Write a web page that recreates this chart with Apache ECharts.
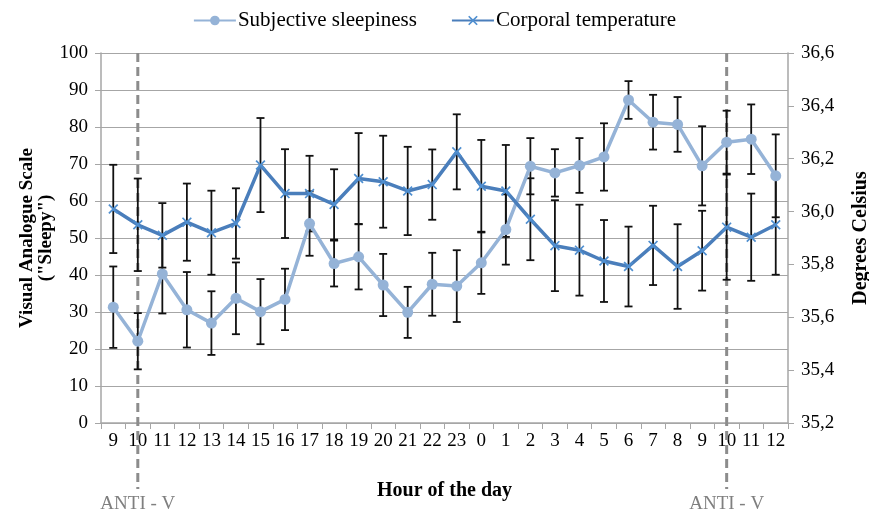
<!DOCTYPE html>
<html>
<head>
<meta charset="utf-8">
<script src="https://cdn.jsdelivr.net/npm/echarts@6/dist/echarts.min.js"></script>
<style>
html,body{margin:0;padding:0;background:#fff;}
#chart{width:869px;height:517px;}
</style>
</head>
<body>
<div id="chart"></div>
<script>
// Hour of the day categories
const hours = ['9','10','11','12','13','14','15','16','17','18','19','20','21','22','23','0','1','2','3','4','5','6','7','8','9','10','11','12'];
// Subjective sleepiness (VAS) and its error (±)
const sleepiness = [31.3,22.1,40.3,30.6,27.0,33.7,30.1,33.4,53.9,43.1,44.9,37.3,29.9,37.5,37.0,43.3,52.3,69.4,67.6,69.6,71.9,87.3,81.3,80.7,69.5,75.9,76.7,66.8];
const sleepinessErr = [11.0,7.6,10.7,10.2,8.6,9.7,8.8,8.3,8.7,6.2,8.8,8.4,6.9,8.5,9.7,8.4,9.5,7.6,6.4,7.4,9.1,5.1,7.4,7.4,10.7,8.5,9.4,11.2];
// Corporal temperature (°C) and its error (±)
const temperature = [36.01,35.95,35.91,35.96,35.92,35.955,36.176,36.068,36.068,36.027,36.125,36.113,36.078,36.102,36.226,36.096,36.078,35.971,35.871,35.854,35.813,35.792,35.872,35.792,35.852,35.941,35.903,35.95];
const temperatureErr = [0.167,0.175,0.122,0.146,0.159,0.133,0.178,0.168,0.143,0.133,0.172,0.174,0.167,0.133,0.142,0.175,0.174,0.155,0.172,0.172,0.155,0.151,0.150,0.160,0.151,0.199,0.165,0.189];
// ANTI - V markers (category positions)
const antiVIndex = [1, 25];
const antiVLabel = 'ANTI - V';

const FONT = 'Liberation Serif';
const GRID_C = '#a6a6a6';
const LIGHT = '#95b3d7';
const DARK = '#4a7ebb';

function errData(vals, errs){
  return vals.map((v,i)=>[i, v-errs[i], v+errs[i]]);
}
function errRender(params, api){
  const i = api.value(0);
  const lo = api.coord([i, api.value(1)]);
  const hi = api.coord([i, api.value(2)]);
  const w = 4;
  const st = {stroke:'#111', lineWidth:1.8};
  return {type:'group', children:[
    {type:'line', shape:{x1:lo[0],y1:lo[1],x2:hi[0],y2:hi[1]}, style:st},
    {type:'line', shape:{x1:lo[0]-w,y1:lo[1],x2:lo[0]+w,y2:lo[1]}, style:st},
    {type:'line', shape:{x1:hi[0]-w,y1:hi[1],x2:hi[0]+w,y2:hi[1]}, style:st}
  ]};
}
const xSymbol = 'path://M0,1.2L1.2,0L5,3.8L8.8,0L10,1.2L6.2,5L10,8.8L8.8,10L5,6.2L1.2,10L0,8.8L3.8,5Z';

const chart = echarts.init(document.getElementById('chart'));
chart.setOption({
  animation:false,
  textStyle:{fontFamily:FONT},
  legend:{
    top:5, left:'center', itemGap:34, itemWidth:42, itemHeight:12,
    textStyle:{fontFamily:FONT, fontSize:21, color:'#000', padding:[0,0,0,-3]},
    data:['Subjective sleepiness','Corporal temperature']
  },
  grid:{left:101, right:81, top:53, bottom:94, containLabel:false, outerBoundsMode:'none'},
  xAxis:{
    type:'category', data:hours, boundaryGap:true,
    name:'Hour of the day', nameLocation:'middle', nameGap:58, nameMoveOverlap:false,
    nameTextStyle:{fontFamily:FONT, fontWeight:'bold', fontSize:20, color:'#000'},
    axisLine:{lineStyle:{color:GRID_C, width:1.5}},
    axisTick:{show:true, alignWithLabel:false, length:6, lineStyle:{color:GRID_C}},
    axisLabel:{interval:0, fontFamily:FONT, fontSize:19, color:'#000', margin:9}
  },
  yAxis:[{
    type:'value', min:0, max:100, interval:10,
    name:'Visual Analogue Scale\n("Sleepy")', nameLocation:'middle', nameGap:45, nameRotate:90, nameMoveOverlap:false,
    nameTextStyle:{fontFamily:FONT, fontWeight:'bold', fontSize:19, color:'#000', lineHeight:19},
    axisLine:{show:true, lineStyle:{color:GRID_C, width:1.5}},
    axisTick:{show:true, length:6, lineStyle:{color:GRID_C}},
    axisLabel:{fontFamily:FONT, fontSize:19, color:'#000', margin:13},
    splitLine:{lineStyle:{color:GRID_C, width:1.2}}
  },{
    type:'value', min:35.2, max:36.6, interval:0.2, position:'right',
    name:'Degrees Celsius', nameLocation:'middle', nameGap:63, nameRotate:90, nameMoveOverlap:false,
    nameTextStyle:{fontFamily:FONT, fontWeight:'bold', fontSize:20, color:'#000'},
    axisLine:{show:true, lineStyle:{color:GRID_C, width:1.5}},
    axisTick:{show:true, length:6, lineStyle:{color:GRID_C}},
    axisLabel:{fontFamily:FONT, fontSize:19, color:'#000', margin:13,
      formatter:v=>v.toFixed(1).replace('.',',')},
    splitLine:{show:false}
  }],
  series:[
    {
      type:'custom', name:'antiV', silent:true, clip:false, z:1,
      data:antiVIndex.map(i=>[i]),
      renderItem:function(params, api){
        const i = api.value(0);
        const top = api.coord([i, 100]);
        const bot = api.coord([i, 0]);
        return {type:'group', children:[
          {type:'line', shape:{x1:top[0],y1:top[1],x2:bot[0],y2:bot[1]+66},
            style:{stroke:'#8c8c8c', lineWidth:3, lineDash:[9,5]}},
          {type:'text', x:top[0], y:bot[1]+81,
            style:{text:antiVLabel, fill:'#7f7f7f', font:'19px "Liberation Serif"', align:'center', verticalAlign:'middle'}}
        ]};
      }
    },
    {type:'custom', name:'sleepErr', silent:true, z:2, yAxisIndex:0,
      data:errData(sleepiness, sleepinessErr), renderItem:errRender},
    {type:'custom', name:'tempErr', silent:true, z:2, yAxisIndex:1,
      data:errData(temperature, temperatureErr), renderItem:errRender},
    {
      name:'Subjective sleepiness', type:'line', yAxisIndex:0, z:3,
      data:sleepiness, symbol:'circle', symbolSize:11,
      lineStyle:{color:LIGHT, width:3.5}, itemStyle:{color:LIGHT}
    },
    {
      name:'Corporal temperature', type:'line', yAxisIndex:1, z:4,
      data:temperature, symbol:xSymbol, symbolSize:10,
      lineStyle:{color:DARK, width:3.5}, itemStyle:{color:'#4f8fd0'}
    }
  ]
});
</script>
</body>
</html>
